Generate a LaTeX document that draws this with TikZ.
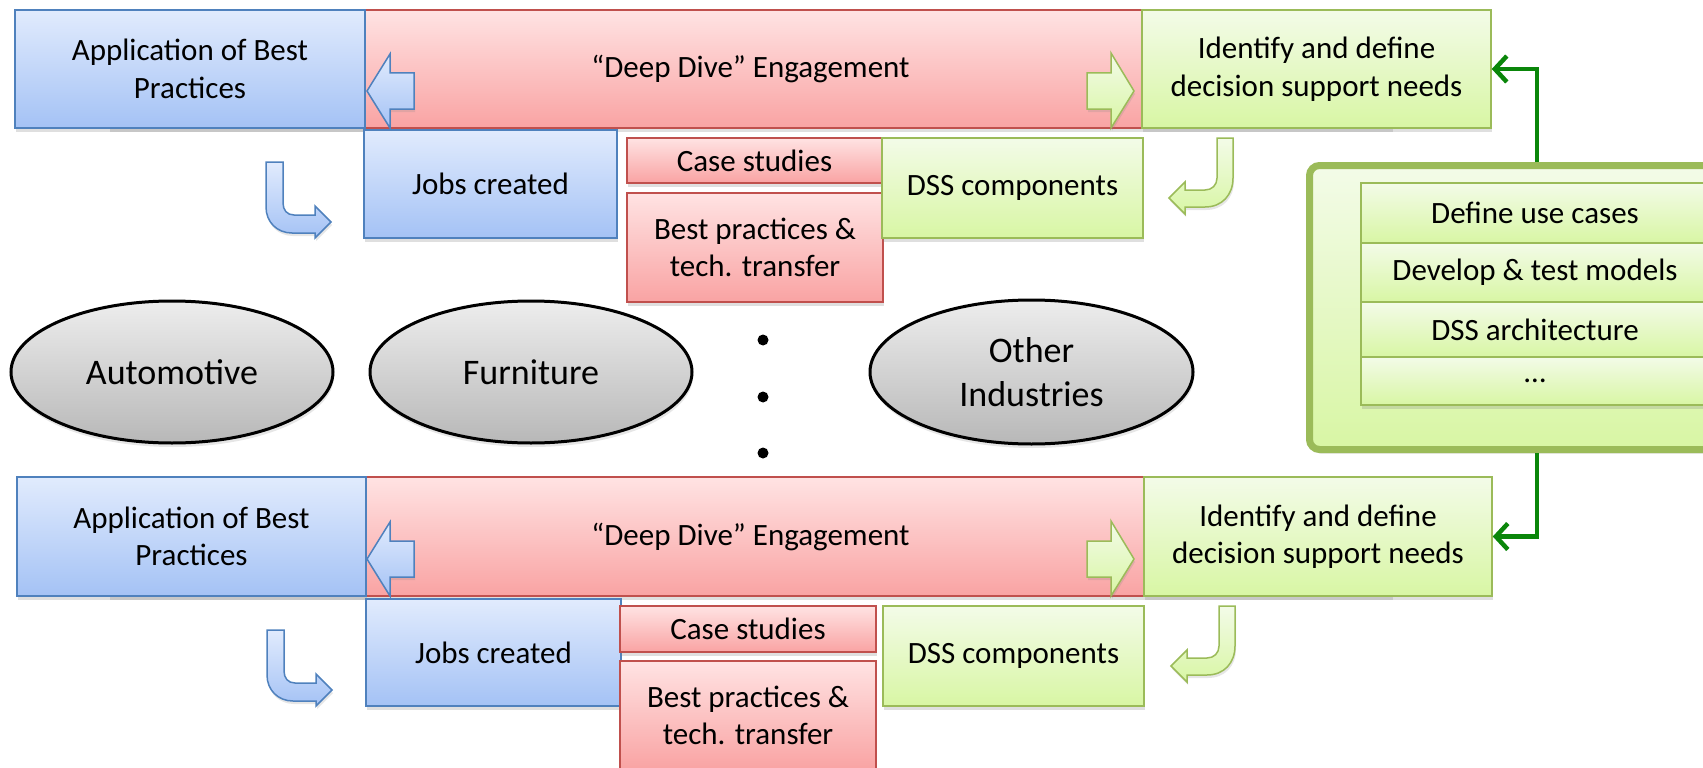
\documentclass[tikz,border=0pt]{standalone}
\usepackage{fontspec}
\setmainfont{Carlito}
\usetikzlibrary{shadows,arrows.meta,shapes.geometric}

\definecolor{bluetop}{HTML}{E1EBFD}
\definecolor{bluebot}{HTML}{A4C2F5}
\definecolor{blueline}{HTML}{4F81BD}
\definecolor{redtop}{HTML}{FFE3E3}
\definecolor{redbot}{HTML}{F9A3A3}
\definecolor{redline}{HTML}{C0504D}
\definecolor{greentop}{HTML}{F3FBE8}
\definecolor{greenbot}{HTML}{D8F6A4}
\definecolor{greenline}{HTML}{9BBB59}
\definecolor{linkgreen}{HTML}{0A860A}

\begin{document}
\begin{tikzpicture}[x=1pt, y=-1pt,
  box/.style={draw, line width=1.5pt, inner sep=0pt, align=center,
    font=\fontsize{31}{37.5}\selectfont,
    drop shadow={shadow xshift=1pt, shadow yshift=-4pt, opacity=0.25}},
  bluebox/.style={box, draw=blueline, top color=bluetop, bottom color=bluebot},
  redbox/.style={box, draw=redline, top color=redtop, bottom color=redbot},
  greenbox/.style={box, draw=greenline, top color=greentop, bottom color=greenbot},
  bluearrow/.style={draw=blueline, line width=1.5pt, top color=bluetop, bottom color=bluebot,
    drop shadow={shadow xshift=1pt, shadow yshift=-3pt, opacity=0.2}},
  greenarrow/.style={draw=greenline, line width=1.5pt, top color=greentop, bottom color=greenbot,
    drop shadow={shadow xshift=1pt, shadow yshift=-3pt, opacity=0.2}},
  industry/.style={ellipse, draw=black, line width=3pt, inner sep=0pt, align=center,
    top color=black!7, bottom color=black!28, minimum width=322pt, minimum height=142pt,
    font=\fontsize{36}{44}\selectfont,
    drop shadow={shadow xshift=1pt, shadow yshift=-4pt, opacity=0.2}},
  dot/.style={circle, fill=black, inner sep=0pt, minimum size=11pt},
  panelbox/.style={draw=greenline, line width=7pt, rounded corners=10pt,
    top color=greentop, bottom color=greenbot,
    drop shadow={shadow xshift=1pt, shadow yshift=-4pt, opacity=0.25}},
  taskbox/.style={greenbox, minimum width=348pt},
  feedback/.style={draw=linkgreen, line width=4.5pt, -{Straight Barb[length=12pt, width=26pt]}}]
\useasboundingbox (0,0) rectangle (1703,768);
\clip (0,0) rectangle (1703,768);

% Upper engagement
\node[redbox, minimum width=1283pt, minimum height=118pt] (dive1) at (750.5,69) {“Deep Dive” Engagement};
\node[bluebox, minimum width=350pt, minimum height=118pt] (app1) at (190,69) {Application of Best\\Practices};
\node[greenbox, minimum width=349pt, minimum height=118pt] (needs1) at (1316.5,69) {Identify and define\\decision support needs};
\node[bluebox, minimum width=253pt, minimum height=108pt] (jobs1) at (490.5,184) {Jobs created};
\node[redbox, minimum width=255pt, minimum height=45pt] (cases1) at (754.5,160.5) {Case studies};
\node[redbox, minimum width=256pt, minimum height=109pt] (transfer1) at (755,247.5) {Best practices \&\\tech. transfer};
\node[greenbox, minimum width=261pt, minimum height=100pt] (dss1) at (1012.5,188) {DSS components};
\draw[bluearrow] (367,91) -- (390,54) -- (390,73) -- (414,73) -- (414,109) -- (390,109) -- (390,128) -- cycle;
\draw[greenarrow] (1134,91) -- (1111,53) -- (1111,73) -- (1087,73) -- (1087,109) -- (1111,109) -- (1111,128) -- cycle;
\draw[bluearrow] (266,162) -- (283,162) -- (283,203) .. controls (283,210) and (287,215) .. (294,215) -- (315,215) -- (315,206) -- (331,222) -- (315,238) -- (315,233) -- (292,233) .. controls (277,233) and (266,222) .. (266,207) -- cycle;
\draw[greenarrow] (1217,138) -- (1233,138) -- (1233,178) .. controls (1233,195) and (1222,207) .. (1205,207) -- (1185,207) -- (1185,214) -- (1169,198) -- (1185,182) -- (1185,190) -- (1205,190) .. controls (1212,190) and (1217,185) .. (1217,178) -- cycle;

% Industries
\node[industry] (auto) at (172,372) {Automotive};
\node[industry] (furn) at (531,372) {Furniture};
\node[industry, minimum width=323pt, minimum height=144pt] (other) at (1031.5,372) {Other\\Industries};
\node[dot] (dot1) at (763,340) {};
\node[dot] (dot2) at (763,397) {};
\node[dot] (dot3) at (763,453) {};

% Lower engagement
\node[redbox, minimum width=1283pt, minimum height=119pt] (dive2) at (750.5,536.5) {“Deep Dive” Engagement};
\node[bluebox, minimum width=349pt, minimum height=119pt] (app2) at (191.5,536.5) {Application of Best\\Practices};
\node[greenbox, minimum width=348pt, minimum height=119pt] (needs2) at (1318,536.5) {Identify and define\\decision support needs};
\node[bluebox, minimum width=255pt, minimum height=107pt] (jobs2) at (493.5,652.5) {Jobs created};
\node[redbox, minimum width=256pt, minimum height=46pt] (cases2) at (748,629) {Case studies};
\node[redbox, minimum width=256pt, minimum height=109pt] (transfer2) at (748,715.5) {Best practices \&\\tech. transfer};
\node[greenbox, minimum width=261pt, minimum height=100pt] (dss2) at (1013.5,656) {DSS components};
\draw[bluearrow, shift={(0,468)}] (367,91) -- (390,54) -- (390,73) -- (414,73) -- (414,109) -- (390,109) -- (390,128) -- cycle;
\draw[greenarrow, shift={(0,468)}] (1134,91) -- (1111,53) -- (1111,73) -- (1087,73) -- (1087,109) -- (1111,109) -- (1111,128) -- cycle;
\draw[bluearrow, shift={(1,468)}] (266,162) -- (283,162) -- (283,203) .. controls (283,210) and (287,215) .. (294,215) -- (315,215) -- (315,206) -- (331,222) -- (315,238) -- (315,233) -- (292,233) .. controls (277,233) and (266,222) .. (266,207) -- cycle;
\draw[greenarrow, shift={(2,468)}] (1217,138) -- (1233,138) -- (1233,178) .. controls (1233,195) and (1222,207) .. (1205,207) -- (1185,207) -- (1185,214) -- (1169,198) -- (1185,182) -- (1185,190) -- (1205,190) .. controls (1212,190) and (1217,185) .. (1217,178) -- cycle;

% DSS development panel
\node[panelbox, minimum width=455pt, minimum height=284pt] (panel) at (1537,307.5) {};
\node[taskbox, minimum height=60pt] (usecase) at (1535,213) {Define use cases};
\node[taskbox, minimum height=59pt] (models) at (1535,272.5) {Develop \& test models};
\node[taskbox, minimum height=55pt] (arch) at (1535,329.5) {DSS architecture};
\node[taskbox, minimum height=48pt] (more) at (1535,381) {…};
\draw[feedback] (panel.north) |- (needs1.east);
\draw[feedback] (panel.south) |- (needs2.east);
\end{tikzpicture}
\end{document}
